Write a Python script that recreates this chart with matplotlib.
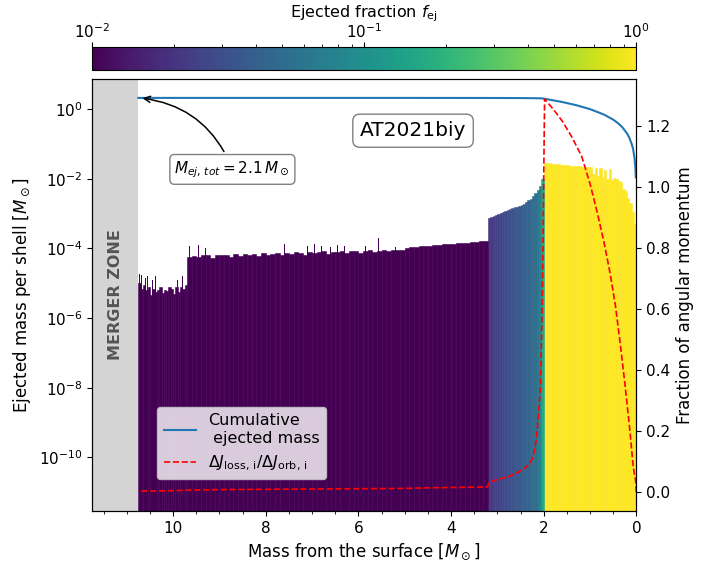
import numpy as np
import matplotlib
matplotlib.use("Agg")
import matplotlib.pyplot as plt
from matplotlib.colors import LogNorm
from matplotlib.cm import ScalarMappable

# ---- data (mass from the surface in Msun) ----
# log10 of ejected mass per shell, grouped by region, listed from the surface inwards
yel_range = (0.0, 2.0)
yel_logdm = [-3.30, -2.95, -2.70, -2.55, -2.35, -2.30, -2.10, -2.05, -2.02, -1.98,
             -2.03, -1.72, -2.00, -1.75, -1.95, -1.69, -1.93, -1.68, -1.85, -1.67,
             -1.67, -1.66, -1.66, -1.65, -1.645, -1.64, -1.63, -1.625, -1.62, -1.61,
             -1.605, -1.60, -1.59, -1.585, -1.58, -1.57, -1.565, -1.56, -1.55, -1.54]
yel_fej = [1.0] * len(yel_logdm)

teal_range = (2.0, 3.2)
teal_logdm = [-2.00, -2.20, -2.33, -2.42, -2.50, -2.57, -2.62, -2.67, -2.71, -2.74,
              -2.77, -2.80, -2.82, -2.85, -2.87, -2.89, -2.92, -2.95, -2.97, -3.00,
              -3.03, -3.06, -3.09, -3.12]
teal_fej = [0.16, 0.08, 0.062, 0.054, 0.050, 0.047, 0.044, 0.042, 0.040, 0.038,
            0.036, 0.034, 0.033, 0.032, 0.030, 0.029, 0.028, 0.027, 0.026, 0.025,
            0.024, 0.023, 0.022, 0.021]

smooth_range = (3.2, 5.0)
smooth_logdm = [-3.79, -3.80, -3.81, -3.82, -3.83, -3.84, -3.85, -3.86, -3.87, -3.88,
                -3.89, -3.90, -3.92, -3.93, -3.94, -3.95, -3.97, -3.99]

noisy_range = (5.0, 9.7)
noisy_logdm = [-4.03, -4.05, -4.04, -4.08, -4.05, -4.06, -4.10, -4.05, -4.07, -4.12,
               -4.06, -4.08, -4.14, -4.07, -4.10, -4.09, -4.15, -4.08, -4.11, -4.13,
               -4.10, -4.18, -4.12, -4.11, -4.16, -4.13, -4.19, -4.12, -4.15, -4.20,
               -4.14, -4.22, -4.15, -4.18, -4.16, -4.21, -4.17, -4.24, -4.18, -4.20,
               -4.19, -4.26, -4.20, -4.18, -4.24, -4.21, -4.25]

deep_range = (9.7, 10.75)
deep_logdm = [-5.05, -5.15, -5.10, -5.25, -5.12, -5.30, -5.15, -5.10, -5.22, -5.18,
              -5.28, -5.12, -5.20, -5.25, -5.15, -5.35, -5.10, -5.20, -5.05, -5.15, -5.00]

# single thin shells sticking out of the noisy inner envelope
spike_x = [10.72, 10.68, 10.60, 10.55, 10.45, 10.38, 10.30, 10.22, 10.15, 10.05,
           9.98, 9.90, 9.85, 9.80,
           9.65, 9.55, 9.45, 9.30, 9.20, 9.05, 8.90, 8.75, 8.60, 8.45, 8.30, 8.10,
           7.95, 7.80, 7.60, 7.45, 7.30, 7.10, 6.95, 6.80, 6.60, 6.45, 6.30, 6.05,
           5.85, 5.56, 5.40, 5.20]
spike_logdm = [-4.72, -4.75, -4.85, -4.78, -4.90, -4.80, -4.95, -4.75, -4.85, -4.80,
               -4.72, -4.90, -4.75, -4.78,
               -3.92, -3.95, -3.90, -3.98, -3.88, -3.95, -3.90, -3.97, -3.88, -3.93,
               -3.96, -3.89, -3.92, -3.95, -3.87, -3.93, -3.90, -3.94, -3.86, -3.92,
               -3.95, -3.90, -3.93, -3.80, -3.92, -3.69, -3.85, -3.95]

purple_fej = 0.01

# cumulative ejected mass
cum_x = [0.01, 0.02, 0.04, 0.07, 0.1, 0.15, 0.2, 0.3, 0.4, 0.5, 0.7, 1.0, 1.3, 1.6,
         1.9, 2.0, 2.05, 2.2, 2.6, 3.2, 5.0, 10.75]
cum_m = [0.011, 0.021, 0.041, 0.072, 0.10, 0.15, 0.20, 0.30, 0.40, 0.50, 0.70, 1.00,
         1.30, 1.60, 1.90, 2.00, 2.04, 2.06, 2.08, 2.09, 2.10, 2.10]

# angular momentum ratio dJ_loss / dJ_orb
dj_x = [0.0, 0.017, 0.067, 0.14, 0.25, 0.35, 0.45, 0.57, 0.7, 0.85, 1.0, 1.18, 1.4,
        1.6, 1.8, 1.98, 2.0, 2.015, 2.04, 2.07, 2.11, 2.16, 2.23, 2.3, 2.41, 2.6,
        2.77, 3.0, 3.18, 3.21, 3.5, 4.0, 4.5, 5.0, 6.0, 7.0, 8.0, 9.0, 9.63, 10.2, 10.75]
dj_frac = [0.0, 0.04, 0.084, 0.204, 0.36, 0.49, 0.61, 0.72, 0.82, 0.92, 1.01, 1.10,
           1.165, 1.215, 1.255, 1.287, 1.02, 0.80, 0.55, 0.346, 0.259, 0.171, 0.117,
           0.095, 0.079, 0.062, 0.051, 0.042, 0.033, 0.018, 0.017, 0.016, 0.015,
           0.013, 0.012, 0.011, 0.010, 0.009, 0.0075, 0.005, 0.004]

m_ej_tot = 2.1
merger_edge = 10.75
x_max = 11.75

cmap = plt.get_cmap("viridis")
norm = LogNorm(vmin=1e-2, vmax=1)

fig = plt.figure(figsize=(7.19, 5.62), dpi=100)
ax = fig.add_axes([0.128, 0.0907, 0.757, 0.769])
cax = fig.add_axes([0.128, 0.875, 0.757, 0.041])


def draw_region(rng, logdm, fej):
    n = len(logdm)
    w = (rng[1] - rng[0]) / n
    xc = rng[0] + w * (np.arange(n) + 0.5)
    cols = cmap(norm(np.asarray(fej)))
    ax.bar(xc, 10.0 ** np.asarray(logdm), width=w, bottom=1e-14, color=cols,
           edgecolor=cols, linewidth=0.4)


draw_region(yel_range, yel_logdm, yel_fej)
draw_region(teal_range, teal_logdm, teal_fej)
draw_region(smooth_range, smooth_logdm, [purple_fej] * len(smooth_logdm))
draw_region(noisy_range, noisy_logdm, [purple_fej] * len(noisy_logdm))
draw_region(deep_range, deep_logdm, [purple_fej] * len(deep_logdm))
ax.bar(spike_x, 10.0 ** np.asarray(spike_logdm), width=0.012, bottom=1e-14,
       color=cmap(norm(purple_fej)), linewidth=0)

ax.set_yscale("log")
ax.axvspan(merger_edge, x_max, color="#d4d4d4", lw=0, zorder=0.5)
ax.text((merger_edge + x_max) / 2, 4.6e-6, "MERGER ZONE", rotation=90, ha="center",
        va="center", fontsize=11.5, fontweight="bold", color="#555555")

l_cum, = ax.plot(cum_x, cum_m, color="C0", lw=1.5, label="Cumulative\n ejected mass")

ax.annotate(r"$M_{ej,\,tot} = %.1f\,M_\odot$" % m_ej_tot, xy=(10.72, m_ej_tot),
            xytext=(8.72, 0.0186), ha="center", va="center", fontsize=11,
            bbox=dict(boxstyle="round", fc="white", ec="gray"),
            arrowprops=dict(arrowstyle="->", color="black", lw=1.1,
                            connectionstyle="arc3,rad=0.3"))
ax.text(4.82, 0.24, "AT2021biy", ha="center", va="center", fontsize=14.5,
        bbox=dict(boxstyle="round,pad=0.35", fc="white", ec="gray"))

ax.set_xlim(x_max, 0)
ax.set_ylim(2.9e-12, 7.4)
ax.set_yticks([1e0, 1e-2, 1e-4, 1e-6, 1e-8, 1e-10])
ax.yaxis.set_minor_locator(matplotlib.ticker.NullLocator())
ax.set_xticks([10, 8, 6, 4, 2, 0])
ax.xaxis.set_minor_locator(matplotlib.ticker.MultipleLocator(0.5))
ax.tick_params(labelsize=11)
ax.set_xlabel(r"Mass from the surface [$M_\odot$]", fontsize=12)
ax.set_ylabel(r"Ejected mass per shell [$M_\odot$]", fontsize=12)

ax2 = ax.twinx()
l_dj, = ax2.plot(dj_x, dj_frac, color="red", ls="--", lw=1.2,
                 label=r"$\Delta J_{\rm loss,\,i}/\Delta J_{\rm orb,\,i}$")
ax2.set_ylim(-0.061, 1.353)
ax2.set_yticks([0.0, 0.2, 0.4, 0.6, 0.8, 1.0, 1.2])
ax2.tick_params(labelsize=11)
ax2.set_ylabel("Fraction of angular momentum", fontsize=12)

ax2.legend(handles=[l_cum, l_dj], loc="lower left", bbox_to_anchor=(0.105, 0.055),
           fontsize=11.5)

cb = fig.colorbar(ScalarMappable(norm=norm, cmap=cmap), cax=cax, orientation="horizontal")
cb.ax.xaxis.set_ticks_position("top")
cb.ax.xaxis.set_label_position("top")
cb.ax.tick_params(labelsize=11, pad=1)
cb.set_label(r"Ejected fraction $f_{\rm ej}$", fontsize=11.5, labelpad=3.5)

fig.savefig("out.png", dpi=100)
